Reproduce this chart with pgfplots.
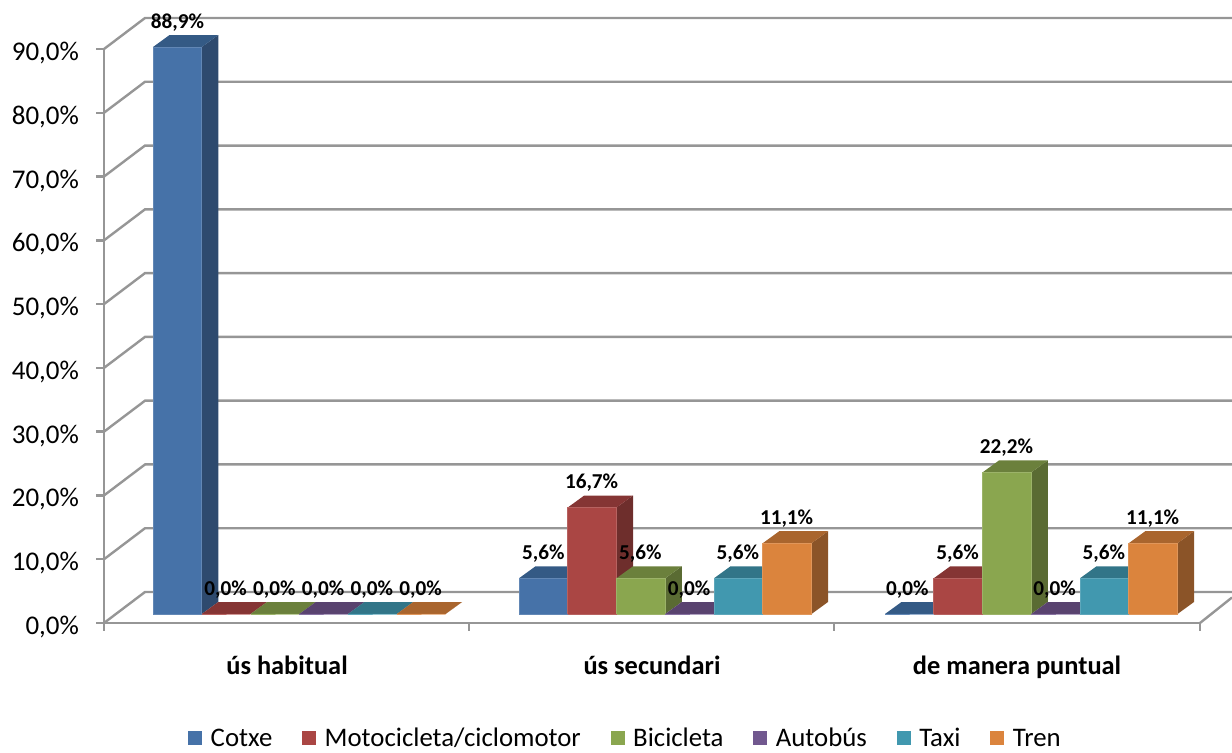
\documentclass[border=0pt]{standalone}
\usepackage{fontspec}
\setmainfont{Carlito}
\usepackage{pgfplots}
\pgfplotsset{compat=1.18}

\definecolor{axisgray}{HTML}{969696}
\definecolor{cA}{HTML}{4672A8}\definecolor{cAt}{HTML}{345A85}\definecolor{cAs}{HTML}{2E4A6E}
\definecolor{cB}{HTML}{AA4644}\definecolor{cBt}{HTML}{853534}\definecolor{cBs}{HTML}{6E2E2C}
\definecolor{cC}{HTML}{8AA64F}\definecolor{cCt}{HTML}{6B803C}\definecolor{cCs}{HTML}{5A6B33}
\definecolor{cD}{HTML}{71588F}\definecolor{cDt}{HTML}{59436F}\definecolor{cDs}{HTML}{4A3860}
\definecolor{cE}{HTML}{4198AF}\definecolor{cEt}{HTML}{327588}\definecolor{cEs}{HTML}{2A6172}
\definecolor{cF}{HTML}{DB843D}\definecolor{cFt}{HTML}{A9652E}\definecolor{cFs}{HTML}{8B5428}

% x in image pixels, y in percent; bars stand on the floor at 1.41
\newcommand{\barc}[3]{%
  \pgfmathsetmacro\xa{#1+48.75}\pgfmathsetmacro\xb{#1+65.25}\pgfmathsetmacro\xc{#1+16.5}%
  \pgfmathsetmacro\yt{1.41+#2}\pgfmathsetmacro\yb{\yt+1.88}\pgfmathsetmacro\yf{1.41+1.88}%
  \addplot[fill=#3s,draw=none] coordinates {(\xa,1.41)(\xb,\yf)(\xb,\yb)(\xa,\yt)(\xa,1.41)};
  \addplot[fill=#3t,draw=none] coordinates {(#1,\yt)(\xa,\yt)(\xb,\yb)(\xc,\yb)(#1,\yt)};
  \addplot[fill=#3,draw=#3!85!white,line width=0.4pt] coordinates {(#1,1.41)(\xa,1.41)(\xa,\yt)(#1,\yt)(#1,1.41)};
}
\newcommand{\gridl}[2]{\addplot[axisgray,line width=1.2pt] coordinates {(104,#1)(145,#2)(1232,#2)};}

\begin{document}
\begin{tikzpicture}
\path[use as bounding box] (0,0) rectangle (616pt,376.5pt);
\begin{axis}[
  at={(52pt,65pt)}, anchor=south west,
  scale only axis, width=548pt, height=287pt,
  xmin=104, xmax=1200, ymin=0, ymax=90,
  clip=false,
  axis x line*=bottom, axis y line*=left,
  axis line style={axisgray,line width=1.2pt},
  every tick/.style={axisgray,line width=1.2pt},
  tick align=outside,
  xtick={287,652,1017},
  xticklabels={ús habitual,ús secundari,de manera puntual},
  major x tick style={draw=none},
  minor xtick={104,469,834,1200},
  minor tick length=4pt, major tick length=4pt,
  ytick={0,10,20,30,40,50,60,70,80,90},
  yticklabels={{0,0\%},{10,0\%},{20,0\%},{30,0\%},{40,0\%},{50,0\%},{60,0\%},{70,0\%},{80,0\%},{90,0\%}},
  yticklabel style={font=\fontsize{13.5}{13.5}\selectfont,xshift=-5pt,yshift=-2pt},
  xticklabel style={font=\fontsize{13.2}{13.2}\selectfont\bfseries,yshift=-9pt},
  every axis plot/.append style={forget plot},
  no markers,
  legend columns=6,
  legend cell align=left,
  legend style={at={(axis cs:626.5,-18.1)},anchor=center,draw=none,fill=none,
    font=\fontsize{13.4}{13.4}\selectfont,inner sep=0pt,
    nodes={text height=9pt,text depth=0.5pt},
    /tikz/every even column/.append style={column sep=12.95pt}},
  legend image code/.code={\fill[#1] (0pt,-3.2pt) rectangle (6.5pt,3.3pt);\path[draw=none,fill=none] (0pt,0pt) -- (9pt,0pt);},
]
% walls and floor
\gridl{0}{4.86}
\gridl{10}{14.86}
\gridl{20}{24.86}
\gridl{30}{34.86}
\gridl{40}{44.86}
\gridl{50}{54.86}
\gridl{60}{64.86}
\gridl{70}{74.86}
\gridl{80}{84.86}
\gridl{90}{94.86}
\addplot[axisgray,line width=1.2pt] coordinates {(1200,0)(1232,4.0)};

% us habitual
\barc{153}{88.9}{cA}
\barc{201.75}{0}{cB}
\barc{250.5}{0}{cC}
\barc{299.25}{0}{cD}
\barc{348}{0}{cE}
\barc{396.75}{0}{cF}
% us secundari
\barc{519}{5.6}{cA}
\barc{567.75}{16.7}{cB}
\barc{616.5}{5.6}{cC}
\barc{665.25}{0}{cD}
\barc{714}{5.6}{cE}
\barc{762.75}{11.1}{cF}
% de manera puntual
\barc{885}{0}{cA}
\barc{933.75}{5.6}{cB}
\barc{982.5}{22.2}{cC}
\barc{1031.25}{0}{cD}
\barc{1080}{5.6}{cE}
\barc{1128.75}{11.1}{cF}

% data labels: x centre, y of label, value
\addplot[draw=none,point meta=explicit,
  nodes near coords={\pgfmathprintnumber[assume math mode=true,fixed,fixed zerofill,precision=1,use comma]{\pgfplotspointmeta}\%},
  every node near coord/.style={anchor=center,inner sep=0pt,text=black,font=\fontsize{10.6}{10.6}\selectfont\bfseries}]
  table[x=x,y=y,meta=v] {
x y v
177.4 94.2 88.9
225.6 5.3 0
274.4 5.3 0
323.1 5.3 0
371.9 5.3 0
420.6 5.3 0
543.4 10.9 5.6
591.6 22.0 16.7
640.4 10.9 5.6
689.1 5.3 0
737.9 10.9 5.6
786.6 16.4 11.1
907.4 5.3 0
957.6 10.9 5.6
1006.4 27.5 22.2
1054.6 5.3 0
1103.9 10.9 5.6
1152.6 16.4 11.1
};

\addlegendimage{cA}\addlegendentry{Cotxe}
\addlegendimage{cB}\addlegendentry{Motocicleta/ciclomotor}
\addlegendimage{cC}\addlegendentry{Bicicleta}
\addlegendimage{cD}\addlegendentry{Autobús}
\addlegendimage{cE}\addlegendentry{Taxi}
\addlegendimage{cF}\addlegendentry{Tren}
\end{axis}
\end{tikzpicture}
\end{document}
